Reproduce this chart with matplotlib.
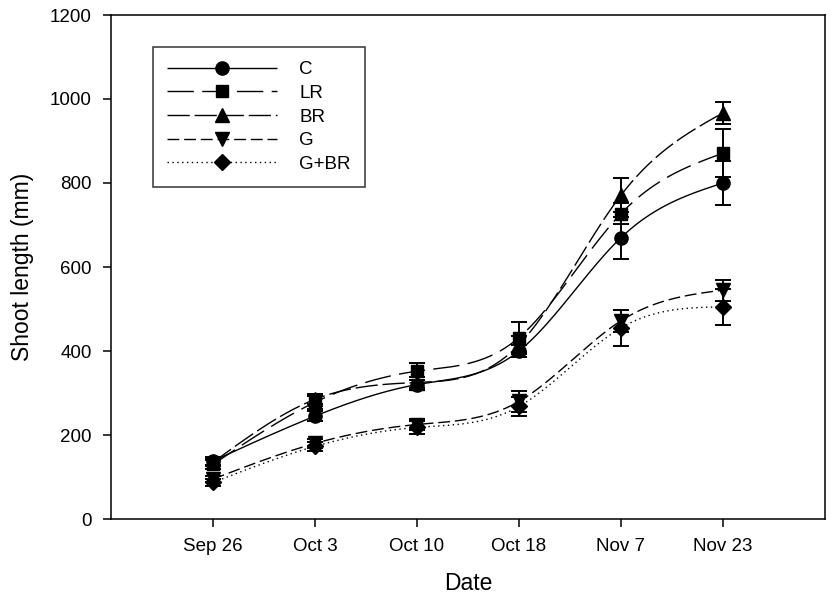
import matplotlib
matplotlib.use('Agg')
import matplotlib.pyplot as plt
from matplotlib.lines import Line2D
import numpy as np

dates = ['Sep 26', 'Oct 3', 'Oct 10', 'Oct 18', 'Nov 7', 'Nov 23']

c_mean = [138, 245, 320, 400, 670, 800]
c_err = [10, 12, 12, 15, 50, 52]
lr_mean = [130, 278, 352, 432, 727, 871]
lr_err = [10, 15, 20, 38, 25, 57]
br_mean = [135, 285, 325, 415, 771, 967]
br_err = [8, 12, 12, 20, 40, 27]
g_mean = [95, 180, 225, 280, 472, 545]
g_err = [8, 10, 12, 25, 26, 25]
gbr_mean = [87, 173, 218, 268, 455, 505]
gbr_err = [8, 10, 15, 22, 42, 42]


def spline(x, y, n=200):
    # natural cubic spline, the way sigmaplot draws smooth lines
    x = np.asarray(x, float)
    y = np.asarray(y, float)
    k = len(x)
    h = np.diff(x)
    a = np.zeros((k, k))
    b = np.zeros(k)
    a[0, 0] = 1
    a[-1, -1] = 1
    for i in range(1, k - 1):
        a[i, i - 1] = h[i - 1]
        a[i, i] = 2 * (h[i - 1] + h[i])
        a[i, i + 1] = h[i]
        b[i] = 3 * ((y[i + 1] - y[i]) / h[i] - (y[i] - y[i - 1]) / h[i - 1])
    c = np.linalg.solve(a, b)
    xs = np.linspace(x[0], x[-1], n)
    ys = np.zeros(n)
    for j, xv in enumerate(xs):
        i = min(np.searchsorted(x, xv, side='right') - 1, k - 2)
        d = xv - x[i]
        bb = (y[i + 1] - y[i]) / h[i] - h[i] * (2 * c[i] + c[i + 1]) / 3
        dd = (c[i + 1] - c[i]) / (3 * h[i])
        ys[j] = y[i] + bb * d + c[i] * d ** 2 + dd * d ** 3
    return xs, ys


plt.rcParams['font.family'] = ['Liberation Sans', 'DejaVu Sans']

fig = plt.figure(figsize=(8.32, 6.01), dpi=100)
ax = fig.add_axes([111 / 832, 1 - 519 / 601, 714 / 832, 504 / 601])

x = np.arange(1, len(dates) + 1)

series = [
    ('C', c_mean, c_err, 'o', (0, ()), 9.5),
    ('LR', lr_mean, lr_err, 's', (0, (19, 6)), 8.5),
    ('BR', br_mean, br_err, '^', (0, (16, 3.5)), 10),
    ('G', g_mean, g_err, 'v', (0, (8.5, 3.5)), 10),
    ('G+BR', gbr_mean, gbr_err, 'D', (0, (1, 2.5)), 8.5),
]

handles = []
for name, m, e, mk, ls, ms in series:
    xs, ys = spline(x, m)
    ax.plot(xs, ys, color='k', lw=1, linestyle=ls)
    ax.errorbar(x, m, yerr=e, fmt='none', ecolor='k', elinewidth=1.4, capsize=6, capthick=1.4)
    ax.plot(x, m, linestyle='none', marker=mk, color='k', markersize=ms)
    handles.append(Line2D([], [], color='k', lw=1, linestyle=ls, marker=mk, markersize=ms))

ax.set_xlim(0, 7)
ax.set_ylim(0, 1200)
ax.set_xticks(x)
ax.set_xticklabels(dates)
ax.set_yticks(range(0, 1201, 200))
ax.tick_params(axis='both', direction='out', length=6, width=1.1, labelsize=13.5)
ax.tick_params(axis='x', pad=8)
ax.tick_params(axis='y', pad=8)
ax.set_xlabel('Date', fontsize=16.5, labelpad=12)
ax.set_ylabel('Shoot length (mm)', fontsize=16.5, labelpad=11)
for s in ax.spines.values():
    s.set_linewidth(1.1)

leg = ax.legend(handles, [s[0] for s in series], loc='upper left', bbox_to_anchor=((153 - 111) / 714, (519 - 47) / 504),
                borderaxespad=0, fontsize=13.5, frameon=True, fancybox=False, edgecolor='k',
                handlelength=5.85, borderpad=0.75, labelspacing=0.35, handletextpad=1.2)
leg.get_frame().set_linewidth(1.1)

fig.savefig('out.png', dpi=100)
